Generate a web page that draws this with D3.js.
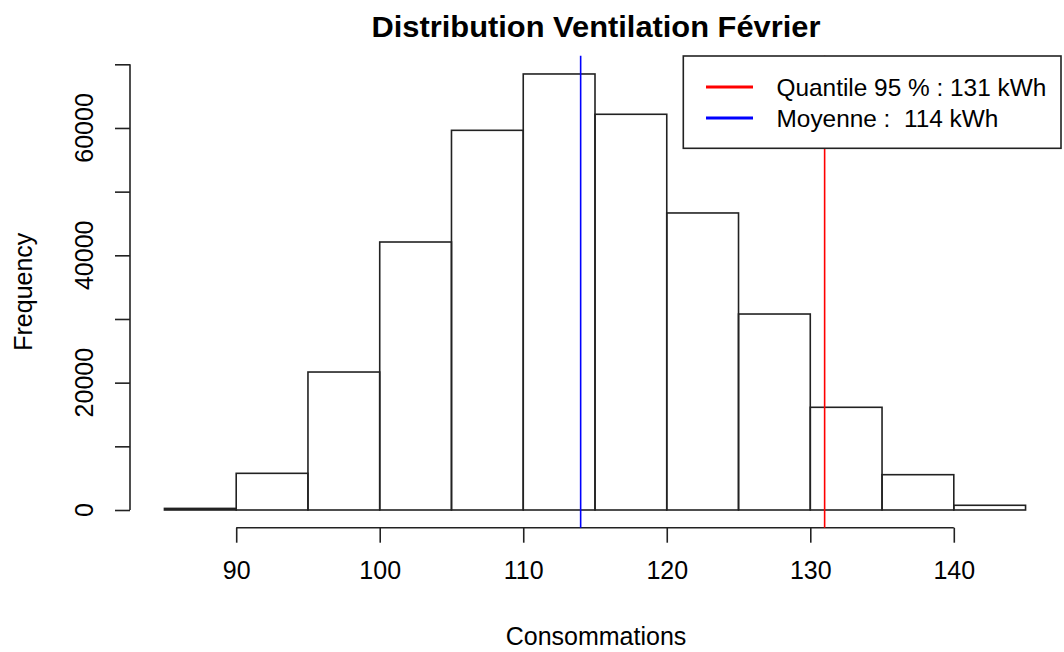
<!DOCTYPE html>
<html><head><meta charset="utf-8">
<script src="https://cdn.jsdelivr.net/npm/d3@7"></script>
<style>body{margin:0;background:#fff}svg{display:block}text{font-family:"Liberation Sans",Arial,sans-serif;fill:#000;white-space:pre}</style>
</head><body><svg id="c" width="1064" height="652"></svg>
<script>
const binStarts = [85,90,95,100,105,110,115,120,125,130,135,140];
const binWidth = 5;
const frequencies = [250,5760,21670,42090,59630,68480,62150,46650,30780,16130,5545,740];
const xTicks = [90,100,110,120,130,140];
const yTicks = [0,10000,20000,30000,40000,50000,60000,70000];
const yTickLabels = [0,20000,40000,60000];
const quantile95 = 131;
const moyenne = 114;
const legendLabels = ["Quantile 95 % : 131 kWh","Moyenne :  114 kWh"];
const legendColors = ["#ff0000","#0000ff"];
const title = "Distribution Ventilation Février";
const xLabel = "Consommations";
const yLabel = "Frequency";

const svg = d3.select("#c");
const pLeft=130, pRight=1060, pTop=55.7, pBottom=527.7;
const x = d3.scaleLinear().domain([82.6,147.4]).range([pLeft,pRight]);
const y = d3.scaleLinear().domain([0,70000]).range([510,64.3]);

// bars
svg.append("g").selectAll("rect").data(binStarts).join("rect")
  .attr("x",(d)=>x(d)).attr("width",(d)=>x(d+binWidth)-x(d))
  .attr("y",(d,i)=>y(frequencies[i])).attr("height",(d,i)=>y(0)-y(frequencies[i]))
  .attr("fill","none").attr("stroke","#222").attr("stroke-width",1.6);

// x axis
const xa = svg.append("g").attr("transform",`translate(0,${pBottom})`)
  .call(d3.axisBottom(x).tickValues(xTicks).tickSize(15).tickPadding(19).tickFormat(d3.format("d")));
xa.select(".domain").attr("d",`M${x(xTicks[0])},0H${x(xTicks[xTicks.length-1])}`).attr("stroke","#222").attr("stroke-width",1.6);
xa.selectAll(".tick line").attr("stroke","#222").attr("stroke-width",1.6);
xa.selectAll(".tick text").attr("font-size",25).attr("font-family","Liberation Sans, Arial, sans-serif").attr("fill","#000");

// y axis
const ya = svg.append("g").attr("transform",`translate(${pLeft},0)`)
  .call(d3.axisLeft(y).tickValues(yTicks).tickSize(15).tickFormat(""));
ya.select(".domain").attr("d",`M0,${y(0)}V${y(70000)}`).attr("stroke","#222").attr("stroke-width",1.6);
ya.selectAll(".tick line").attr("stroke","#222").attr("stroke-width",1.6);
svg.append("g").selectAll("text").data(yTickLabels).join("text")
  .attr("transform",(d)=>`translate(84,${y(d)}) rotate(-90)`)
  .attr("text-anchor","middle").attr("dominant-baseline","central")
  .attr("font-size",25).text((d)=>d);

// vertical lines
svg.append("line").attr("x1",x(quantile95)).attr("x2",x(quantile95)).attr("y1",pTop).attr("y2",pBottom)
  .attr("stroke",legendColors[0]).attr("stroke-width",1.6);
svg.append("line").attr("x1",x(moyenne)).attr("x2",x(moyenne)).attr("y1",pTop).attr("y2",pBottom)
  .attr("stroke",legendColors[1]).attr("stroke-width",1.6);

// legend
const lg = svg.append("g");
lg.append("rect").attr("x",683.3).attr("y",56).attr("width",377.7).attr("height",92.3)
  .attr("fill","#fff").attr("stroke","#222").attr("stroke-width",1.6);
legendLabels.forEach((t,i)=>{
  const yy = 87 + i*31;
  lg.append("line").attr("x1",706).attr("x2",753).attr("y1",yy).attr("y2",yy)
    .attr("stroke",legendColors[i]).attr("stroke-width",3);
  lg.append("text").attr("x",776.5).attr("y",yy).attr("dominant-baseline","central")
    .attr("font-size",24.4).text(t);
});

// titles
svg.append("text").attr("x",596).attr("y",27).attr("text-anchor","middle").attr("dominant-baseline","central")
  .attr("font-size",29).attr("font-weight","bold")
  .attr("textLength",449).attr("lengthAdjust","spacingAndGlyphs").text(title);
svg.append("text").attr("x",596).attr("y",636).attr("text-anchor","middle").attr("dominant-baseline","central")
  .attr("font-size",25).text(xLabel);
svg.append("text").attr("transform",`translate(23,${(pTop+pBottom)/2}) rotate(-90)`).attr("text-anchor","middle")
  .attr("dominant-baseline","central").attr("font-size",25).text(yLabel);
</script></body></html>
